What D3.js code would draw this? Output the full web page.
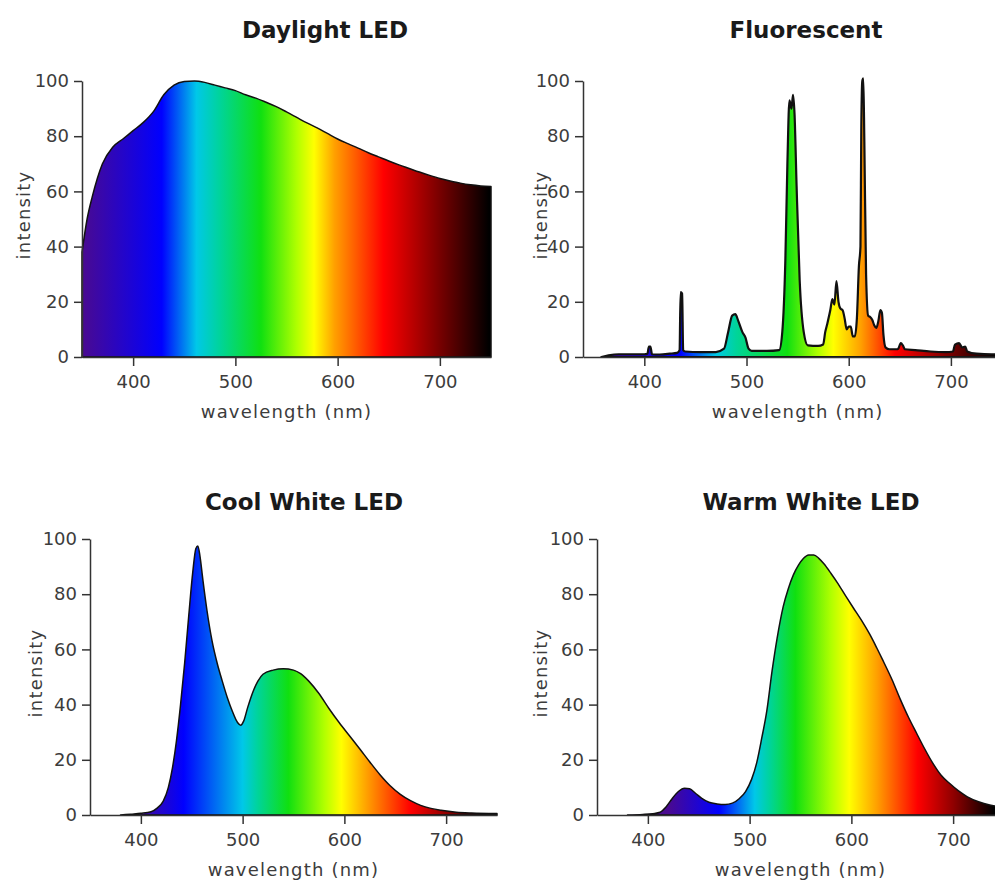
<!DOCTYPE html>
<html>
<head>
<meta charset="utf-8">
<script src="https://cdn.jsdelivr.net/npm/d3@7"></script>
<style>
body { margin: 0; background: #fff; }
.axis path, .axis line { stroke: #333; stroke-width: 1.5; }
.axis text { font-family: "DejaVu Sans", sans-serif; font-size: 18px; fill: #3c3c3c; }
.label { font-family: "DejaVu Sans", sans-serif; font-size: 18px; fill: #3c3c3c; letter-spacing: 1.2px; }
.title { font-family: "DejaVu Sans", sans-serif; font-weight: bold; font-size: 23px; fill: #1a1a1a; }
</style>
</head>
<body>
<script>

// tick labels
var xTicks = [400, 500, 600, 700];
var yTicks = [0, 20, 40, 60, 80, 100];

// Daylight LED
var dayWave  = [350, 355, 360, 370, 380, 390, 400, 410, 420, 430, 440, 450, 460, 470, 480, 490, 500, 510, 520, 530, 540, 550, 560, 570, 580, 590, 600, 610, 620, 630, 640, 650, 660, 670, 680, 690, 700, 710, 720, 730, 740, 750];
var dayValue = [38, 50, 58, 70, 76, 79, 82, 85, 89, 95, 98.5, 99.8, 100, 99.5, 98.5, 97.5, 96.5, 95, 93.8, 92.3, 90.7, 88.8, 86.8, 84.8, 83, 81, 79, 77.3, 75.7, 74, 72.5, 71, 69.6, 68.3, 67, 65.8, 64.7, 63.8, 63, 62.4, 62, 61.8];

// Fluorescent
var flWave  = [358, 365, 375, 390, 400, 403, 404.5, 406, 407.5, 415, 425, 432, 434.5, 435.5, 437, 438, 440, 455, 470, 478, 482, 486, 489, 492, 496, 499, 502, 505, 520, 532, 535, 538, 540, 542, 544, 545.5, 547, 549, 552, 556, 560, 570, 575, 577, 579, 582, 584, 586, 588, 590, 592, 594, 596, 598, 600, 602, 604, 606, 608, 610, 611.5, 612.3, 613.3, 614.3, 615.3, 617, 619, 621, 623, 625, 627, 629, 631, 632.5, 634, 636, 640, 648, 651, 653, 655, 665, 680, 695, 702, 704, 708, 711, 714, 716, 725, 740, 750];
var flValue = [0, 0.6, 1, 1, 1, 1.2, 3.8, 3.8, 1, 0.9, 1.2, 1.5, 2.5, 23.5, 23, 2.5, 2, 1.8, 1.8, 3, 9, 15, 15.5, 13, 9, 7, 3, 2.2, 2.2, 2.5, 9, 35, 70, 93, 90, 95, 88, 62, 28, 9, 4.2, 4, 4.5, 9, 12, 17, 21, 19, 27.5, 20, 17.5, 17, 14, 10, 11, 11, 7.5, 7.5, 14, 33, 40, 82, 100, 101, 78, 30, 15, 14.5, 13.5, 11.5, 10.5, 13, 17, 16, 8, 3.5, 2.8, 2.8, 5, 4.2, 2.8, 2.5, 2, 1.8, 2, 4.5, 5, 3.5, 3.8, 2, 1.2, 1, 1];

// Cool White LED
var coolWave  = [380, 390, 400, 410, 416, 422, 427, 431, 435, 439, 443, 447, 451, 454, 456, 458, 461, 465, 470, 475, 480, 485, 490, 495, 498, 501, 505, 510, 515, 520, 530, 540, 550, 557, 565, 575, 585, 595, 605, 615, 625, 635, 645, 655, 665, 675, 685, 695, 710, 725, 750];
var coolValue = [0, 0.3, 0.6, 1.2, 2.5, 5, 10, 17, 27, 40, 55, 72, 88, 96.5, 97.5, 94, 85, 74, 63, 55, 48.5, 42.5, 37.5, 33.5, 32.5, 34, 39, 44.5, 48.5, 51, 52.5, 53, 52.5, 51.2, 48.5, 44, 38.5, 33.4, 28.7, 24, 19.2, 14.6, 10.6, 7.5, 5.2, 3.5, 2.4, 1.7, 1, 0.7, 0.5];

// Warm White LED
var warmWave  = [380, 395, 405, 412, 418, 424, 430, 436, 441, 447, 453, 460, 468, 476, 483, 490, 496, 502, 507, 512, 517, 522, 527, 533, 538, 543, 548, 553, 558, 563, 568, 573, 580, 586, 595, 602, 610, 618, 625, 631, 640, 648, 656, 664, 672, 680, 688, 697, 705, 714, 725, 736, 750];
var warmValue = [0, 0.2, 0.5, 1, 3, 6, 8.5, 9.7, 9.5, 7.8, 6, 4.6, 4, 3.8, 4.3, 6, 8.5, 13, 19, 28, 38, 52, 64, 75.5, 82, 87, 90.5, 93, 94.2, 94.2, 93, 91, 87.5, 84.3, 79, 75, 70.5, 65.5, 60.5, 56, 49, 42, 35.5, 29.7, 24, 18.8, 14.5, 11.3, 8.8, 6.6, 4.8, 3.6, 2.8];

// spectrum fill: colours, and where each one sits (nm) in every panel
var specColors = ["#4a0a90", "#0000ff", "#00c8e8", "#00d49a", "#10e010", "#b0ff00", "#ffff00", "#ffa000", "#ff0000", "#900000", "#000000"];
var dayStops  = [350, 428, 462, 485, 525, 560, 577, 597, 645, 690, 748];
var flStops   = [355, 435, 470, 490, 540, 570, 585, 612, 645, 690, 745];
var coolStops = [395, 442, 500, 515, 545, 580, 597, 622, 665, 700, 745];
var warmStops = [420, 470, 505, 520, 545, 580, 598, 625, 665, 700, 740];

var panels = [
  {id: "day",  title: "Daylight LED",   wave: dayWave,  value: dayValue,  stops: dayStops,  xd: [350, 750], left: 82,  right: 491,  top: 81,  bottom: 357, titleX: 325, titleY: 38,  labelOff: 52},
  {id: "fl",   title: "Fluorescent",    wave: flWave,   value: flValue,   stops: flStops,   xd: [340, 750], left: 583, right: 1002, top: 81,  bottom: 357, titleX: 806, titleY: 38,  labelOff: 36},
  {id: "cool", title: "Cool White LED", wave: coolWave, value: coolValue, stops: coolStops, xd: [350, 750], left: 90,  right: 497,  top: 539, bottom: 815, titleX: 304, titleY: 510, labelOff: 48},
  {id: "warm", title: "Warm White LED", wave: warmWave, value: warmValue, stops: warmStops, xd: [350, 750], left: 597, right: 1004, top: 539, bottom: 815, titleX: 811, titleY: 510, labelOff: 50}
];

var svg = d3.select("body").append("svg")
    .attr("width", 995)
    .attr("height", 886);

var defs = svg.append("defs");

panels.forEach(function(p) {
  var x = d3.scaleLinear().domain(p.xd).range([p.left, p.right]);
  var y = d3.scaleLinear().domain([0, 100]).range([p.bottom, p.top]);

  var data = p.wave.map(function(w, i) { return [w, p.value[i]]; });

  var grad = defs.append("linearGradient")
      .attr("id", "grad-" + p.id)
      .attr("gradientUnits", "userSpaceOnUse")
      .attr("x1", x(p.xd[0])).attr("x2", x(p.xd[1]))
      .attr("y1", 0).attr("y2", 0);

  grad.selectAll("stop")
      .data(p.stops)
    .enter().append("stop")
      .attr("offset", function(s) { return (s - p.xd[0]) / (p.xd[1] - p.xd[0]); })
      .attr("stop-color", function(s, i) { return specColors[i]; });

  var area = d3.area()
      .x(function(d) { return x(d[0]); })
      .y0(y(0))
      .y1(function(d) { return y(d[1]); })
      .curve(d3.curveMonotoneX);

  svg.append("path")
      .attr("d", area(data))
      .attr("fill", "url(#grad-" + p.id + ")")
      .attr("stroke", "#111")
      .attr("stroke-width", p.id == "fl" ? 2.2 : 1.5)
      .attr("stroke-linejoin", "round");

  svg.append("g")
      .attr("class", "axis")
      .attr("transform", "translate(0," + p.bottom + ")")
      .call(d3.axisBottom(x).tickValues(xTicks).tickSize(9).tickSizeOuter(0).tickPadding(9));

  svg.append("g")
      .attr("class", "axis")
      .attr("transform", "translate(" + p.left + ",0)")
      .call(d3.axisLeft(y).tickValues(yTicks).tickSize(8).tickSizeOuter(0).tickPadding(5));

  svg.selectAll(".axis .domain").attr("fill", "none");

  svg.append("text")
      .attr("class", "label")
      .attr("x", x(550))
      .attr("y", p.bottom + 61)
      .attr("text-anchor", "middle")
      .text("wavelength (nm)");

  svg.append("text")
      .attr("class", "label")
      .attr("transform", "translate(" + (p.left - p.labelOff) + "," + ((p.top + p.bottom) / 2 - 4) + ") rotate(-90)")
      .attr("text-anchor", "middle")
      .text("intensity");

  svg.append("text")
      .attr("class", "title")
      .attr("x", p.titleX)
      .attr("y", p.titleY)
      .attr("text-anchor", "middle")
      .text(p.title);
});

</script>
</body>
</html>
